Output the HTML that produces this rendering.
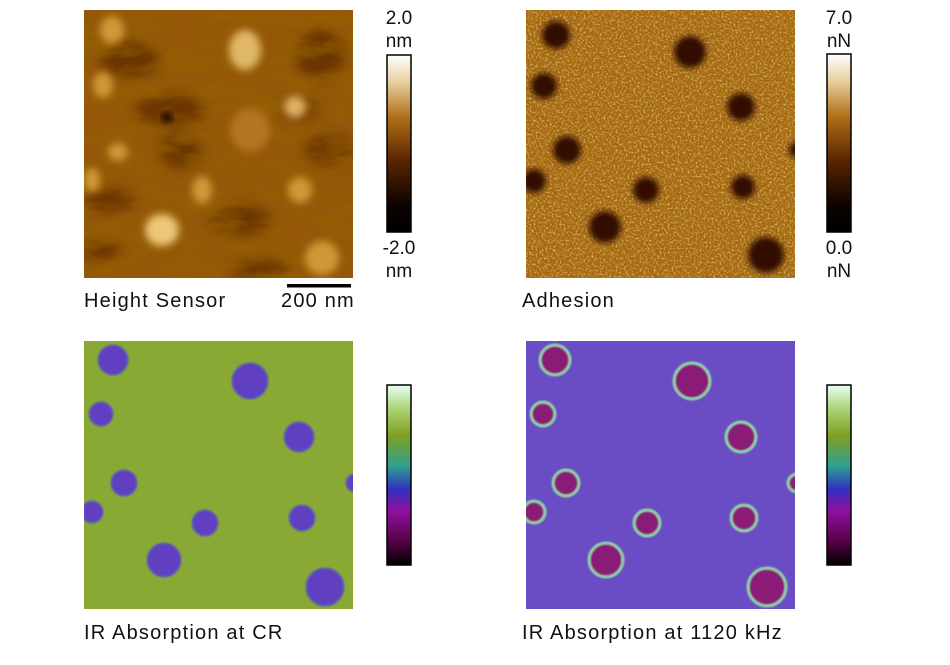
<!DOCTYPE html>
<html><head><meta charset="utf-8"><style>
body{margin:0;background:#fff;width:950px;height:665px;overflow:hidden;font-family:"Liberation Sans",sans-serif;}
svg{position:absolute;left:0;top:0}
text{font-family:"Liberation Sans",sans-serif;font-size:19px;fill:#111}
.lb{font-size:20px;letter-spacing:1.2px}
</style></head><body>
<svg width="950" height="665" viewBox="0 0 950 665">
<defs>
<filter id="n1" x="0" y="0" width="100%" height="100%"><feTurbulence type="fractalNoise" baseFrequency="0.5" numOctaves="2" seed="3"/><feColorMatrix type="matrix" values="0 0 0 0 1  0 0 0 0 0.85  0 0 0 0 0.5  0 0 0 1.6 -0.75"/></filter>
<filter id="n3" x="0" y="0" width="100%" height="100%"><feTurbulence type="fractalNoise" baseFrequency="0.45" numOctaves="2" seed="11"/><feColorMatrix type="matrix" values="0 0 0 0 0.3  0 0 0 0 0.12  0 0 0 0 0  0 0 0 1.6 -0.7"/></filter>
<filter id="n2" x="0" y="0" width="100%" height="100%"><feTurbulence type="fractalNoise" baseFrequency="0.025 0.07" numOctaves="3" seed="7"/><feColorMatrix type="matrix" values="0 0 0 0 0.3  0 0 0 0 0.12  0 0 0 0 0  0 0 0 2.5 -1.0"/></filter>
<filter id="b6"><feGaussianBlur stdDeviation="6"/></filter>
<filter id="b4"><feGaussianBlur stdDeviation="4"/></filter>
<filter id="b3"><feGaussianBlur stdDeviation="3"/></filter>
<filter id="b1"><feGaussianBlur stdDeviation="0.8"/></filter>
<linearGradient id="gb" x1="0" y1="1" x2="0" y2="0"><stop offset="0" stop-color="#000"/><stop offset="0.15" stop-color="#0d0300"/><stop offset="0.4" stop-color="#5a2400"/><stop offset="0.65" stop-color="#b07018"/><stop offset="0.85" stop-color="#e8d0a0"/><stop offset="1" stop-color="#fff"/></linearGradient>
<linearGradient id="gs" x1="0" y1="1" x2="0" y2="0"><stop offset="0" stop-color="#000"/><stop offset="0.12" stop-color="#500040"/><stop offset="0.3" stop-color="#9010a0"/><stop offset="0.42" stop-color="#3030c0"/><stop offset="0.55" stop-color="#30a090"/><stop offset="0.72" stop-color="#80a020"/><stop offset="0.88" stop-color="#b0d880"/><stop offset="1" stop-color="#e8fff8"/></linearGradient>
<clipPath id="c1"><rect x="84" y="10" width="269" height="268"/></clipPath>
<clipPath id="c2"><rect x="526" y="10" width="269" height="268"/></clipPath>
<clipPath id="c3"><rect x="84" y="341" width="269" height="268"/></clipPath>
<clipPath id="c4"><rect x="526" y="341" width="269" height="268"/></clipPath>
</defs>
<!-- Height -->
<g clip-path="url(#c1)">
<rect x="84" y="10" width="269" height="268" fill="#945808"/>
<g filter="url(#b6)" fill="#6a3404">
<ellipse cx="130" cy="60" rx="30" ry="18"/><ellipse cx="320" cy="55" rx="25" ry="25"/><ellipse cx="170" cy="110" rx="35" ry="15"/>
<ellipse cx="330" cy="150" rx="25" ry="15"/><ellipse cx="110" cy="200" rx="25" ry="12"/><ellipse cx="240" cy="220" rx="30" ry="15"/>
<ellipse cx="180" cy="150" rx="20" ry="18"/><ellipse cx="260" cy="270" rx="30" ry="10"/><ellipse cx="100" cy="250" rx="20" ry="10"/><ellipse cx="300" cy="110" rx="20" ry="10"/></g>
<rect x="84" y="10" width="269" height="268" filter="url(#n2)" opacity="0.7"/>
<g filter="url(#b4)" fill="#d09838">
<ellipse cx="245" cy="50" rx="16" ry="20" fill="#e0b868"/><ellipse cx="112" cy="30" rx="12" ry="14"/><ellipse cx="103" cy="85" rx="10" ry="13"/>
<ellipse cx="295" cy="107" rx="11" ry="11" fill="#e0b060"/><ellipse cx="118" cy="152" rx="10" ry="9"/><ellipse cx="202" cy="190" rx="10" ry="14"/>
<ellipse cx="162" cy="230" rx="17" ry="16" fill="#ecc878"/><ellipse cx="300" cy="190" rx="12" ry="13"/><ellipse cx="322" cy="258" rx="17" ry="17"/>
<ellipse cx="250" cy="130" rx="20" ry="22" fill="#b47420"/><ellipse cx="92" cy="180" rx="8" ry="12"/></g>
<g filter="url(#b3)" fill="#2a0e00"><circle cx="167" cy="117" r="6"/></g>
</g>
<rect x="387" y="55" width="24" height="177" fill="url(#gb)" stroke="#000" stroke-width="1.5"/>
<text x="399" y="24" text-anchor="middle">2.0</text><text x="399" y="47" text-anchor="middle">nm</text>
<text x="399" y="254" text-anchor="middle">-2.0</text><text x="399" y="277" text-anchor="middle">nm</text>
<rect x="287" y="284" width="64" height="3.5" fill="#000"/>
<text class="lb" x="84" y="307">Height Sensor</text><text class="lb" x="281" y="307">200 nm</text>
<!-- Adhesion -->
<g clip-path="url(#c2)">
<rect x="526" y="10" width="269" height="268" fill="#a86a10"/>
<rect x="526" y="10" width="269" height="268" filter="url(#n3)"/>
<rect x="526" y="10" width="269" height="268" filter="url(#n1)"/>
<g filter="url(#b3)" fill="#300a00">
<circle cx="556" cy="35" r="14"/><circle cx="690" cy="52" r="16"/><circle cx="544" cy="86" r="13"/><circle cx="741" cy="107" r="14"/>
<circle cx="567" cy="150" r="14"/><circle cx="797" cy="150" r="8"/><circle cx="534" cy="181" r="12"/><circle cx="646" cy="190" r="13"/>
<circle cx="743" cy="187" r="12"/><circle cx="605" cy="227" r="16"/><circle cx="766" cy="255" r="18"/></g>
</g>
<rect x="827" y="54" width="24" height="178" fill="url(#gb)" stroke="#000" stroke-width="1.5"/>
<text x="839" y="24" text-anchor="middle">7.0</text><text x="839" y="47" text-anchor="middle">nN</text>
<text x="839" y="254" text-anchor="middle">0.0</text><text x="839" y="277" text-anchor="middle">nN</text>
<text class="lb" x="522" y="307">Adhesion</text>
<!-- IR CR -->
<g clip-path="url(#c3)">
<rect x="84" y="341" width="269" height="268" fill="#8aa834"/>
<g filter="url(#b1)" fill="#6040c0" stroke="#5a70a0" stroke-width="1.5">
<circle cx="113" cy="360" r="15"/><circle cx="250" cy="381" r="18"/><circle cx="101" cy="414" r="12"/><circle cx="299" cy="437" r="15"/>
<circle cx="124" cy="483" r="13"/><circle cx="355" cy="483" r="9"/><circle cx="92" cy="512" r="11"/><circle cx="205" cy="523" r="13"/>
<circle cx="302" cy="518" r="13"/><circle cx="164" cy="560" r="17"/><circle cx="325" cy="587" r="19"/></g>
</g>
<rect x="387" y="385" width="24" height="180" fill="url(#gs)" stroke="#000" stroke-width="1.5"/>
<text class="lb" x="84" y="639">IR Absorption at CR</text>
<!-- IR 1120 -->
<g clip-path="url(#c4)">
<rect x="526" y="341" width="269" height="268" fill="#6a4cc4"/>
<g filter="url(#b1)" fill="#8a1a78" stroke="#90d0a8" stroke-width="3">
<circle cx="555" cy="360" r="15"/><circle cx="692" cy="381" r="18"/><circle cx="543" cy="414" r="12"/><circle cx="741" cy="437" r="15"/>
<circle cx="566" cy="483" r="13"/><circle cx="797" cy="483" r="9"/><circle cx="534" cy="512" r="11"/><circle cx="647" cy="523" r="13"/>
<circle cx="744" cy="518" r="13"/><circle cx="606" cy="560" r="17"/><circle cx="767" cy="587" r="19"/></g>
</g>
<rect x="827" y="385" width="24" height="180" fill="url(#gs)" stroke="#000" stroke-width="1.5"/>
<text class="lb" x="522" y="639">IR Absorption at 1120 kHz</text>
</svg>
</body></html>
